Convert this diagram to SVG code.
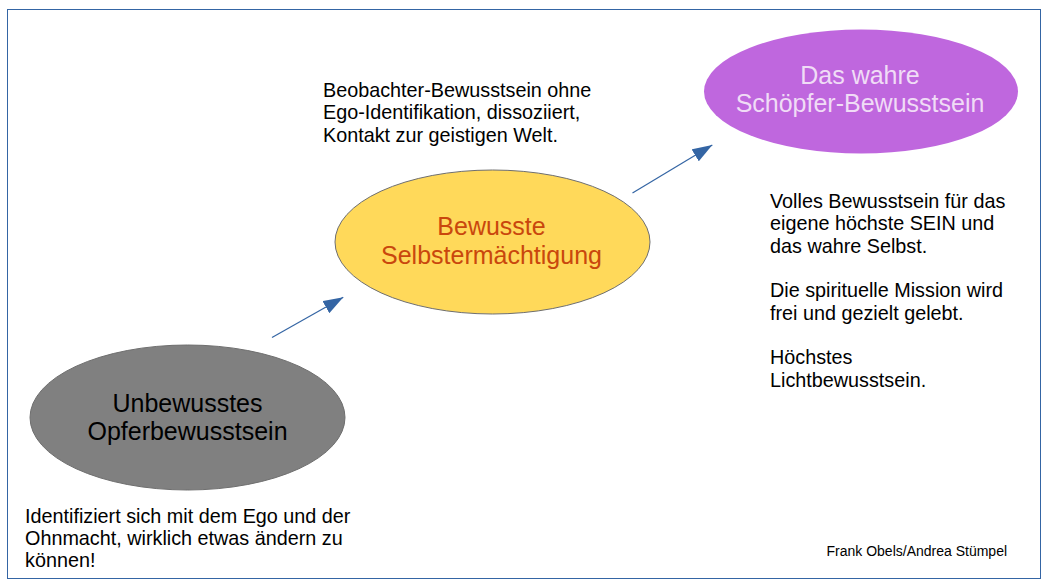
<svg xmlns="http://www.w3.org/2000/svg" width="1051" height="587" viewBox="0 0 1051 587">
<style>
text { font-family: "Liberation Sans", Arial, sans-serif; }
.lbl { font-size: 25px; text-anchor: middle; }
.note { font-size: 19.8px; fill: #000000; }
.conn { stroke: #3465a4; stroke-width: 1.2; fill: none; marker-end: url(#arrow); }
</style>
<defs>
<marker id="arrow" viewBox="0 0 20 14" refX="20" refY="7" markerWidth="20" markerHeight="14" markerUnits="userSpaceOnUse" orient="auto">
<path d="M0,0 L20,7 L0,14 Z" fill="#3465a4"/>
</marker>
</defs>
<rect x="0" y="0" width="1051" height="587" fill="#ffffff"/>
<rect x="7.5" y="9.5" width="1033" height="569" fill="none" stroke="#3465a4" stroke-width="1"/>
<g id="connectors">
<line class="conn" x1="272" y1="337.5" x2="343.3" y2="297.3"/>
<line class="conn" x1="632.5" y1="193" x2="712.3" y2="145"/>
</g>
<g id="node-opfer">
<ellipse cx="187.5" cy="417.5" rx="157.5" ry="72.5" fill="#808080" stroke="#6e6e6e" stroke-width="1"/>
<text class="lbl" fill="#000000"><tspan x="187.5" y="411.5">Unbewusstes</tspan><tspan x="187.5" y="440">Opferbewusstsein</tspan></text>
</g>
<g id="node-selbst">
<ellipse cx="492.5" cy="242" rx="157.5" ry="72" fill="#ffd95a" stroke="#6e6e6e" stroke-width="1"/>
<text class="lbl" fill="#c9470d"><tspan x="491.5" y="235">Bewusste</tspan><tspan x="491.5" y="263.5">Selbstermächtigung</tspan></text>
</g>
<g id="node-schoepfer">
<ellipse cx="861" cy="91.5" rx="157" ry="62" fill="#bf67de"/>
<text class="lbl" fill="#f0dcf6"><tspan x="860" y="83.5">Das wahre</tspan><tspan x="860" y="111.5">Schöpfer-Bewusstsein</tspan></text>
</g>
<g id="note-opfer">
<text class="note"><tspan x="25" y="522.5">Identifiziert sich mit dem Ego und der</tspan><tspan x="25" y="544.5">Ohnmacht, wirklich etwas ändern zu</tspan><tspan x="25" y="566.5">können!</tspan></text>
</g>
<g id="note-selbst">
<text class="note"><tspan x="323" y="96.5">Beobachter-Bewusstsein ohne</tspan><tspan x="323" y="119">Ego-Identifikation, dissoziiert,</tspan><tspan x="323" y="141.5">Kontakt zur geistigen Welt.</tspan></text>
</g>
<g id="note-schoepfer">
<text class="note"><tspan x="770" y="207.5">Volles Bewusstsein für das</tspan><tspan x="770" y="230">eigene höchste SEIN und</tspan><tspan x="770" y="252.5">das wahre Selbst.</tspan><tspan x="770" y="297">Die spirituelle Mission wird</tspan><tspan x="770" y="319.5">frei und gezielt gelebt.</tspan><tspan x="770" y="364">Höchstes</tspan><tspan x="770" y="386.5">Lichtbewusstsein.</tspan></text>
</g>
<g id="credit">
<text x="826.5" y="556" font-size="14px" fill="#000000">Frank Obels/Andrea Stümpel</text>
</g>
</svg>
